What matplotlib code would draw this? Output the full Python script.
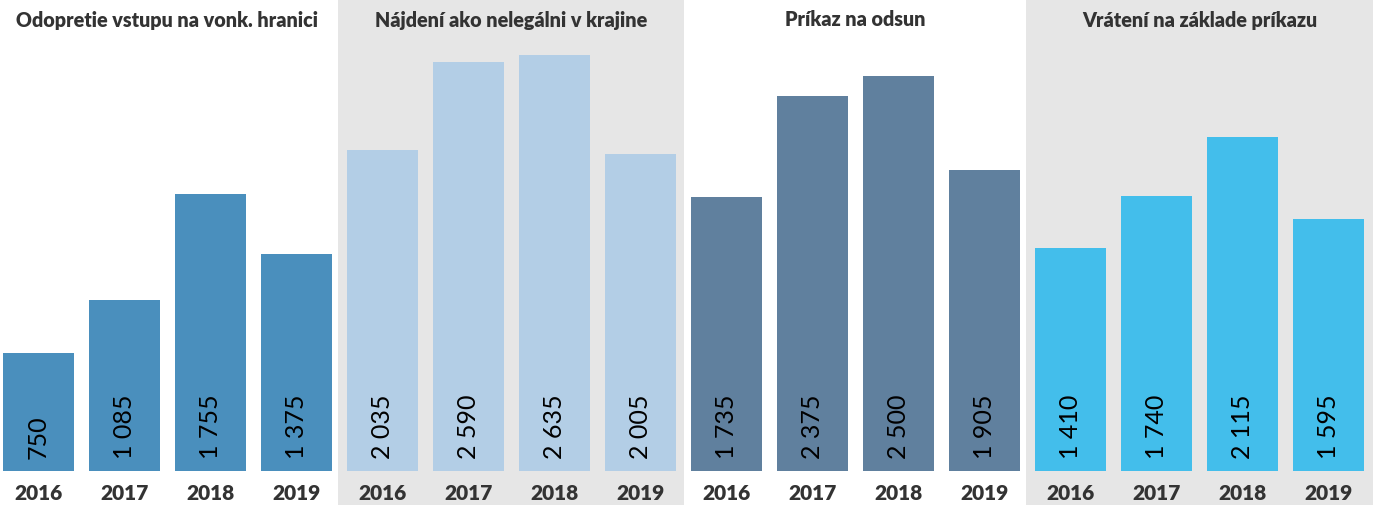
import numpy as np
import matplotlib.pyplot as plt

plt.rcParams['font.family'] = ['Lato', 'DejaVu Sans']

titles = [
    "Odopretie vstupu na vonk. hranici",
    "Nájdení ako nelegálni v krajine",
    "Príkaz na odsun",
    "Vrátení na základe príkazu",
]
years = ["2016", "2017", "2018", "2019"]
values = [
    [750, 1085, 1755, 1375],
    [2035, 2590, 2635, 2005],
    [1735, 2375, 2500, 1905],
    [1410, 1740, 2115, 1595],
]
colors = ["#4a8fbd", "#b3cee6", "#60809e", "#43beeb"]
shaded = [False, True, False, True]

PX = 86.0          # pixels per bar slot
YS = 0.15787       # pixels per unit
BASE = 471         # pixel row of the bar baseline

fig = plt.figure(figsize=(13.73, 5.05), dpi=100)
ax = fig.add_axes([0, 0, 1, 1])
ax.set_xlim(-38.5 / PX, (1373 - 38.5) / PX)
ax.set_ylim(-(505 - BASE) / YS, BASE / YS)
ax.axis('off')

def fmt(v):
    return f"{v:,}".replace(",", " ")

for k in range(4):
    xs = np.arange(4) + 4 * k
    if shaded[k]:
        right = xs[-1] + 0.5 if k < 3 else 16
        ax.axvspan(xs[0] - 0.5 - 0.015, right, color="#e6e6e6", zorder=0, lw=0)
    ax.bar(xs, values[k], width=71 / PX, color=colors[k], zorder=2)
    for x, v, yr in zip(xs, values[k], years):
        ax.text(x, 12 / YS, fmt(v), rotation=90, ha='center', va='bottom',
                fontsize=18, color='black', zorder=3)
        ax.text(x, -22 / YS, yr, ha='center', va='center', fontsize=15,
                fontweight='heavy', color='#333333')
    ax.text(xs.mean(), (BASE - 20) / YS, titles[k], ha='center', va='center',
            fontsize=14.2, fontweight='heavy', color='#333333')

fig.savefig("out.png", dpi=100)
